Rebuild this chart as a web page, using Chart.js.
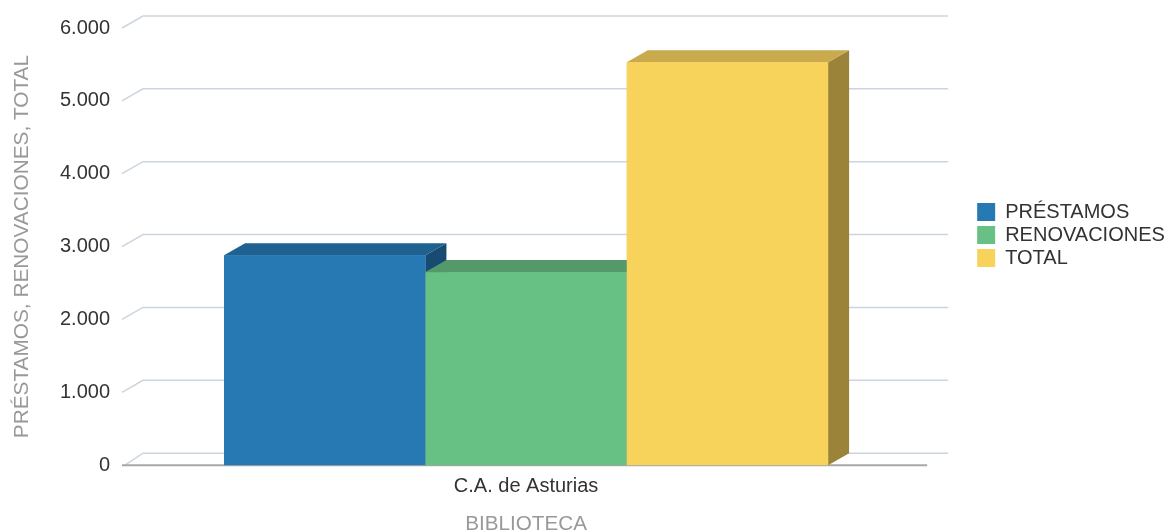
<!DOCTYPE html>
<html>
<head>
<meta charset="utf-8">
<script src="https://cdn.jsdelivr.net/npm/chart.js@4"></script>
<style>
  html, body { margin: 0; padding: 0; background: #fff; }
  #wrap { width: 1169px; height: 530px; }
</style>
</head>
<body>
<div id="wrap"><canvas id="chart" width="1169" height="530"></canvas></div>
<script>
const categories = ['C.A. de Asturias'];
const seriesNames = ['PRÉSTAMOS', 'RENOVACIONES', 'TOTAL'];
const prestamos = [2880];
const renovaciones = [2650];
const total = [5530];
const yMax = 6000;
const yStep = 1000;

// front, top, side colours per series
const fronts = ['#2779b3', '#67c184', '#f8d35b'];
const tops = ['#1f6191', '#53996a', '#c9aa4c'];
const sides = ['#184b72', '#3f7a52', '#9b8339'];

const DX = 21, DY = -12; // depth of the 3d effect
const FONT = "'Liberation Sans', Arial, sans-serif";

function fmt(v){
  return v.toString().replace(/\B(?=(\d{3})+(?!\d))/g, '.');
}

/* back wall grid + floor, drawn before the bars */
const wallPlugin = {
  id: 'wall',
  beforeDatasetsDraw(chart){
    const {ctx, chartArea: a} = chart;
    const ys = chart.scales.y;
    ctx.save();
    ys.ticks.forEach(t => {
      const y = ys.getPixelForValue(t.value);
      if(t.value === 0) return;
      ctx.strokeStyle = '#ccd5df';
      ctx.lineWidth = 1.5;
      ctx.beginPath();
      ctx.moveTo(a.left - 3, y);
      ctx.lineTo(a.left - 3 + DX, y + DY);
      ctx.lineTo(a.right + DX, y + DY);
      ctx.stroke();
    });
    // floor
    const y0 = ys.getPixelForValue(0);
    ctx.strokeStyle = '#ccd5df';
    ctx.lineWidth = 1.5;
    ctx.beginPath();
    ctx.moveTo(a.left, y0);
    ctx.lineTo(a.left + DX - 3, y0 + DY);
    ctx.lineTo(a.right + DX, y0 + DY);
    ctx.stroke();
    ctx.strokeStyle = '#a8a8a8';
    ctx.lineWidth = 2;
    ctx.beginPath();
    ctx.moveTo(a.left - 3, y0);
    ctx.lineTo(a.right, y0);
    ctx.stroke();
    ctx.restore();
  }
};

/* 3d sides and tops, painted left to right */
const boxPlugin = {
  id: 'box3d',
  afterDatasetsDraw(chart){
    const {ctx} = chart;
    const bars = [];
    chart.data.datasets.forEach((ds, i) => {
      chart.getDatasetMeta(i).data.forEach(el => {
        const p = el.getProps(['x', 'y', 'base', 'width'], true);
        bars.push({p, i});
      });
    });
    bars.sort((a, b) => a.p.x - b.p.x);
    ctx.save();
    bars.forEach(({p, i}) => {
      const l = p.x - p.width / 2, r = p.x + p.width / 2;
      const t = p.y, b = p.base;
      ctx.fillStyle = sides[i];
      ctx.beginPath();
      ctx.moveTo(r, t); ctx.lineTo(r + DX, t + DY);
      ctx.lineTo(r + DX, b + DY); ctx.lineTo(r, b);
      ctx.closePath(); ctx.fill();
      ctx.fillStyle = tops[i];
      ctx.beginPath();
      ctx.moveTo(l, t); ctx.lineTo(l + DX, t + DY);
      ctx.lineTo(r + DX, t + DY); ctx.lineTo(r, t);
      ctx.closePath(); ctx.fill();
      ctx.fillStyle = fronts[i];
      ctx.fillRect(l, t, r - l, b - t);
    });
    ctx.restore();
  }
};

/* move the legend block up a little */
const legendShift = {
  id: 'legendShift',
  afterLayout(chart){
    const L = chart.legend;
    L.top = 0;
    L.bottom = 470;
    L.height = 470;
  }
};

new Chart(document.getElementById('chart'), {
  type: 'bar',
  data: {
    labels: categories,
    datasets: [
      { label: seriesNames[0], data: prestamos, backgroundColor: fronts[0], borderColor: fronts[0], borderWidth: 0 },
      { label: seriesNames[1], data: renovaciones, backgroundColor: fronts[1], borderColor: fronts[1], borderWidth: 0 },
      { label: seriesNames[2], data: total, backgroundColor: fronts[2], borderColor: fronts[2], borderWidth: 0 }
    ]
  },
  options: {
    responsive: false,
    animation: false,
    devicePixelRatio: 1,
    layout: { padding: { top: 28, bottom: 0, left: 0, right: 0 } },
    datasets: { bar: { categoryPercentage: 0.753, barPercentage: 1 } },
    plugins: {
      tooltip: { enabled: false },
      legend: {
        position: 'right',
        fullSize: false,
        labels: {
          boxWidth: 18, boxHeight: 18, padding: 3,
          color: '#333', font: { family: FONT, size: 20 }
        }
      }
    },
    scales: {
      x: {
        grid: { display: false, drawTicks: false },
        border: { display: false },
        ticks: { color: '#333', padding: 9, font: { family: FONT, size: 20 } },
        title: {
          display: true, text: 'BIBLIOTECA', color: '#999',
          font: { family: FONT, size: 20.7 }, padding: { top: 5, bottom: -7 }
        }
      },
      y: {
        min: 0, max: yMax,
        grid: { display: false, drawTicks: false },
        border: { display: false },
        ticks: {
          stepSize: yStep, color: '#333', padding: 15,
          font: { family: FONT, size: 20 },
          callback: v => fmt(v)
        },
        title: {
          display: true, text: 'PRÉSTAMOS, RENOVACIONES, TOTAL', color: '#999',
          font: { family: FONT, size: 20.8 }, padding: { top: 10, bottom: 0 }
        },
        afterFit(s){ s.width = 125; }
      },
      y2: {
        position: 'right',
        grid: { display: false, drawTicks: false },
        border: { display: false },
        ticks: { display: false },
        afterFit(s){ s.width = 47; }
      }
    }
  },
  plugins: [wallPlugin, boxPlugin, legendShift]
});
</script>
</body>
</html>
